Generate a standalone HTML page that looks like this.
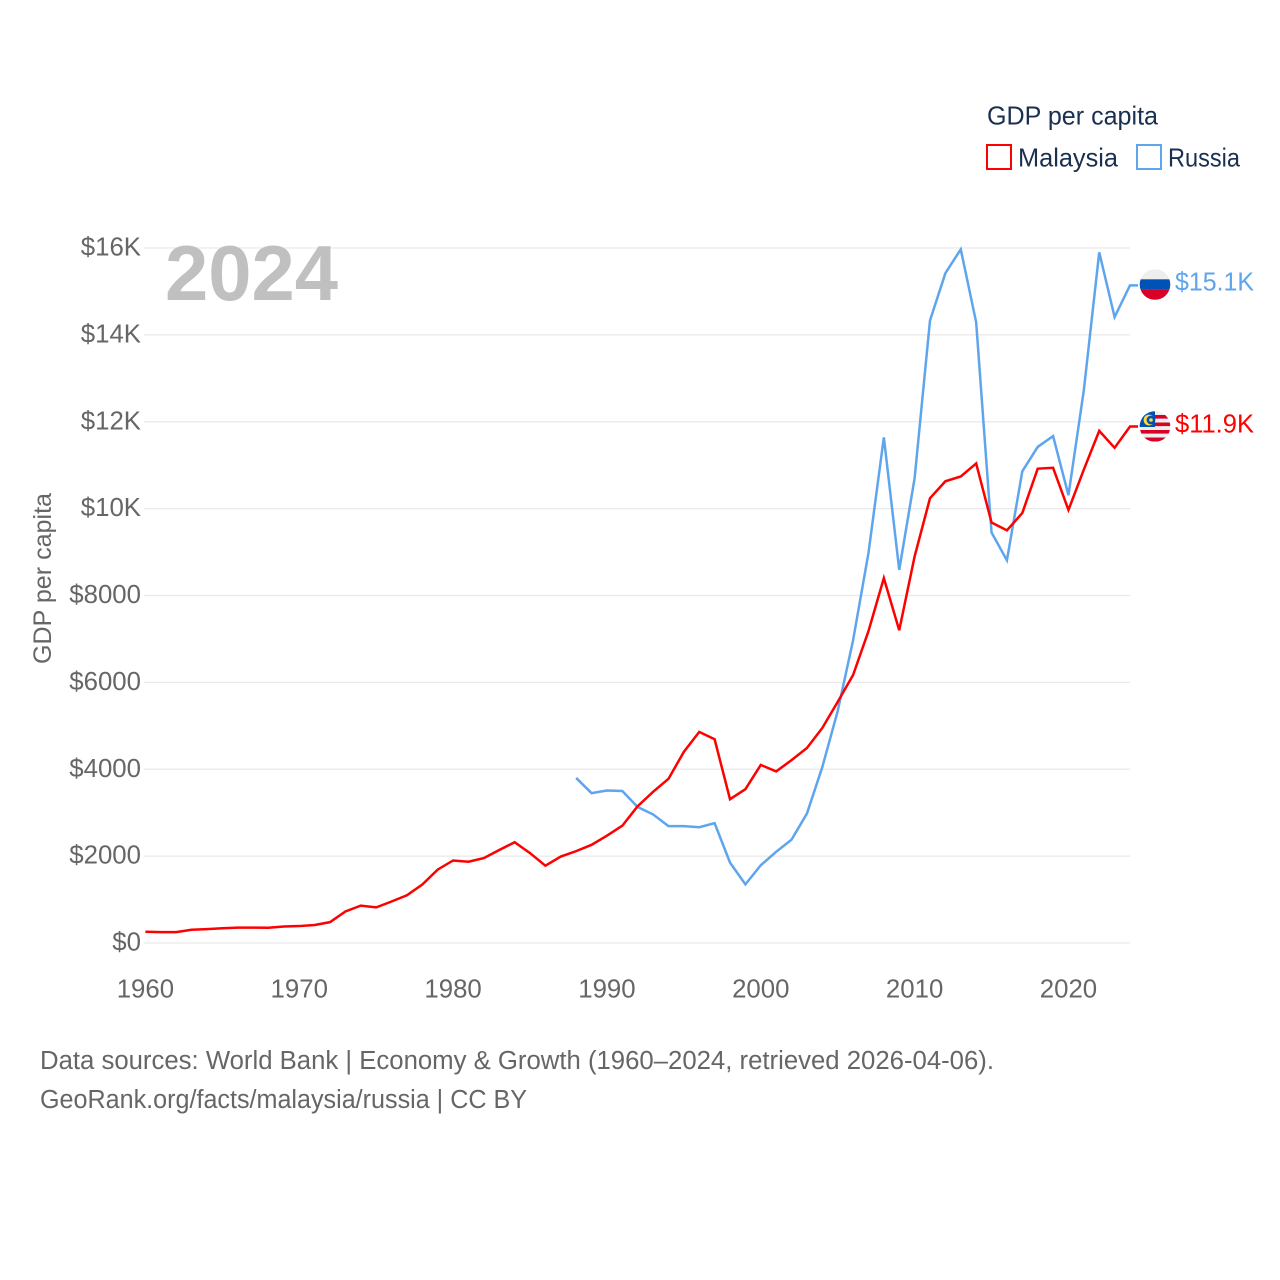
<!DOCTYPE html>
<html lang="en">
<head>
<meta charset="utf-8">
<title>GDP per capita: Malaysia and Russia</title>
<style>
html,body{margin:0;padding:0;background:#fff;}
svg{display:block;}
text{font-family:"Liberation Sans",sans-serif;}
</style>
</head>
<body>
<svg id="chart" xmlns="http://www.w3.org/2000/svg" width="1280" height="1280" viewBox="0 0 1280 1280">
  <rect x="0" y="0" width="1280" height="1280" fill="#ffffff"/>
  <defs>
    <clipPath id="flag-clip-ru"><circle cx="1155" cy="284.5" r="15.3"/></clipPath>
    <clipPath id="flag-clip-my"><circle cx="1155" cy="426.5" r="15.3"/></clipPath>
  </defs>
  <g id="grid"></g>
  <g id="y-axis"></g>
  <g id="x-axis"></g>
  <text x="165" y="300" font-size="78" font-weight="700" fill="#c0c0c0" textLength="173" lengthAdjust="spacingAndGlyphs">2024</text>
  <text transform="translate(51,664) rotate(-90)" font-size="25" fill="#666666" textLength="171" lengthAdjust="spacingAndGlyphs">GDP per capita</text>
  <g id="series"></g>

  <g clip-path="url(#flag-clip-ru)">
    <rect x="1139" y="269" width="32" height="10.3" fill="#eeeeee"/>
    <rect x="1139" y="279.3" width="32" height="10.3" fill="#0052b4"/>
    <rect x="1139" y="289.6" width="32" height="11" fill="#d80027"/>
  </g>
  <g clip-path="url(#flag-clip-my)">
    <rect x="1139" y="411" width="32" height="32" fill="#eeeeee"/>
    <rect x="1139" y="415" width="32" height="3.6" fill="#d80027"/>
    <rect x="1139" y="422.5" width="32" height="3.6" fill="#d80027"/>
    <rect x="1139" y="430" width="32" height="3.6" fill="#d80027"/>
    <rect x="1139" y="437.5" width="32" height="4" fill="#d80027"/>
    <rect x="1139" y="411" width="16" height="16" fill="#0052b4"/>
    <circle cx="1149" cy="420" r="5.4" fill="#ffda44"/>
    <circle cx="1151" cy="420" r="4.4" fill="#0052b4"/>
    <circle cx="1151" cy="420" r="1.8" fill="#ffda44"/>
  </g>
  <text id="label-russia" x="1175" y="290.5" font-size="25.5" fill="#5ea5ee" textLength="79" lengthAdjust="spacingAndGlyphs"></text>
  <text id="label-malaysia" x="1175" y="432.5" font-size="25.5" fill="#ff0000" textLength="79" lengthAdjust="spacingAndGlyphs"></text>

  <g>
    <text x="987" y="124.5" font-size="26" fill="#1a3050" textLength="171" lengthAdjust="spacingAndGlyphs">GDP per capita</text>
    <g>
      <rect x="987" y="145" width="24" height="24" fill="none" stroke="#ff0000" stroke-width="2"/>
      <text x="1018" y="166.5" font-size="26" fill="#1a3050" textLength="100" lengthAdjust="spacingAndGlyphs">Malaysia</text>
    </g>
    <g>
      <rect x="1137" y="145" width="24" height="24" fill="none" stroke="#5ea5ee" stroke-width="2"/>
      <text x="1168" y="166.5" font-size="26" fill="#1a3050" textLength="72" lengthAdjust="spacingAndGlyphs">Russia</text>
    </g>
  </g>

  <text x="40" y="1069" font-size="25.5" fill="#666666" textLength="954" lengthAdjust="spacingAndGlyphs">Data sources: World Bank | Economy &amp; Growth (1960–2024, retrieved 2026-04-06).</text>
  <text x="40" y="1108" font-size="25.5" fill="#666666" textLength="487" lengthAdjust="spacingAndGlyphs">GeoRank.org/facts/malaysia/russia | CC BY</text>
</svg>
<script>
const years = [1960,1961,1962,1963,1964,1965,1966,1967,1968,1969,1970,1971,1972,1973,1974,1975,1976,1977,1978,1979,1980,1981,1982,1983,1984,1985,1986,1987,1988,1989,1990,1991,1992,1993,1994,1995,1996,1997,1998,1999,2000,2001,2002,2003,2004,2005,2006,2007,2008,2009,2010,2011,2012,2013,2014,2015,2016,2017,2018,2019,2020,2021,2022,2023,2024];
const malaysiaValues = [260,250,250,305,320,340,355,355,350,380,390,415,480,725,860,820,955,1100,1345,1690,1900,1870,1955,2140,2320,2070,1780,1990,2115,2260,2470,2700,3150,3480,3780,4400,4860,4690,3310,3540,4100,3950,4210,4490,4950,5550,6170,7180,8400,7200,8900,10240,10630,10740,11040,9680,9500,9900,10920,10940,9970,10900,11790,11400,11890];
const russiaValues = [null,null,null,null,null,null,null,null,null,null,null,null,null,null,null,null,null,null,null,null,null,null,null,null,null,null,null,null,3800,3450,3510,3500,3130,2960,2690,2690,2665,2760,1850,1350,1790,2100,2380,2980,4050,5340,6970,8980,11640,8590,10700,14330,15420,15970,14290,9450,8810,10860,11420,11670,10310,12730,15900,14410,15140];
const yTickValues = [0,2000,4000,6000,8000,10000,12000,14000,16000];
const yTickLabels = ["$0","$2000","$4000","$6000","$8000","$10K","$12K","$14K","$16K"];
const xTickValues = [1960,1970,1980,1990,2000,2010,2020];

const NS = "http://www.w3.org/2000/svg";
function xScale(year){ return 145.4 + (year - 1960) * (1130 - 145.4) / (2024 - 1960); }
function yScale(value){ return 943 - value * (943 - 248) / 16000; }
function formatK(value){ return "$" + (value / 1000).toFixed(1) + "K"; }

const gridGroup = document.getElementById("grid");
const yAxisGroup = document.getElementById("y-axis");
const xAxisGroup = document.getElementById("x-axis");
const seriesGroup = document.getElementById("series");

yTickValues.forEach(function(value, i){
  const line = document.createElementNS(NS, "line");
  
  
  line.setAttribute("x1", 144);
  line.setAttribute("x2", 1130);
  line.setAttribute("y1", yScale(value));
  line.setAttribute("y2", yScale(value));
  line.setAttribute("stroke", "#e9e9e9");
  line.setAttribute("stroke-width", "1.3");
  gridGroup.appendChild(line);

  const label = document.createElementNS(NS, "text");
  
  
  label.setAttribute("x", 141);
  label.setAttribute("y", yScale(value) + 7.5);
  label.setAttribute("text-anchor", "end");
  label.setAttribute("font-size", "25.8");
  label.setAttribute("fill", "#666666");
  label.textContent = yTickLabels[i];
  yAxisGroup.appendChild(label);
});

xTickValues.forEach(function(year){
  const label = document.createElementNS(NS, "text");
  
  
  label.setAttribute("x", xScale(year));
  label.setAttribute("y", 997.5);
  label.setAttribute("text-anchor", "middle");
  label.setAttribute("font-size", "25.8");
  label.setAttribute("fill", "#666666");
  label.textContent = String(year);
  xAxisGroup.appendChild(label);
});

function linePath(values){
  let d = "";
  let lastY = null;
  values.forEach(function(value, i){
    if (value === null) return;
    lastY = yScale(value);
    d += (d ? "L" : "M") + xScale(years[i]).toFixed(2) + " " + lastY.toFixed(2);
  });
  return d + "L1138 " + lastY.toFixed(2);
}

const russiaLine = document.createElementNS(NS, "path");


russiaLine.setAttribute("d", linePath(russiaValues));
russiaLine.setAttribute("fill", "none");
russiaLine.setAttribute("stroke", "#5ea5ee");
russiaLine.setAttribute("stroke-width", "2.5");
russiaLine.setAttribute("stroke-linejoin", "miter");
seriesGroup.appendChild(russiaLine);

const malaysiaLine = document.createElementNS(NS, "path");


malaysiaLine.setAttribute("d", linePath(malaysiaValues));
malaysiaLine.setAttribute("fill", "none");
malaysiaLine.setAttribute("stroke", "#ff0000");
malaysiaLine.setAttribute("stroke-width", "2.5");
malaysiaLine.setAttribute("stroke-linejoin", "miter");
seriesGroup.appendChild(malaysiaLine);

document.getElementById("label-russia").textContent = formatK(russiaValues[russiaValues.length - 1]);
document.getElementById("label-malaysia").textContent = formatK(malaysiaValues[malaysiaValues.length - 1]);
</script>
</body>
</html>
